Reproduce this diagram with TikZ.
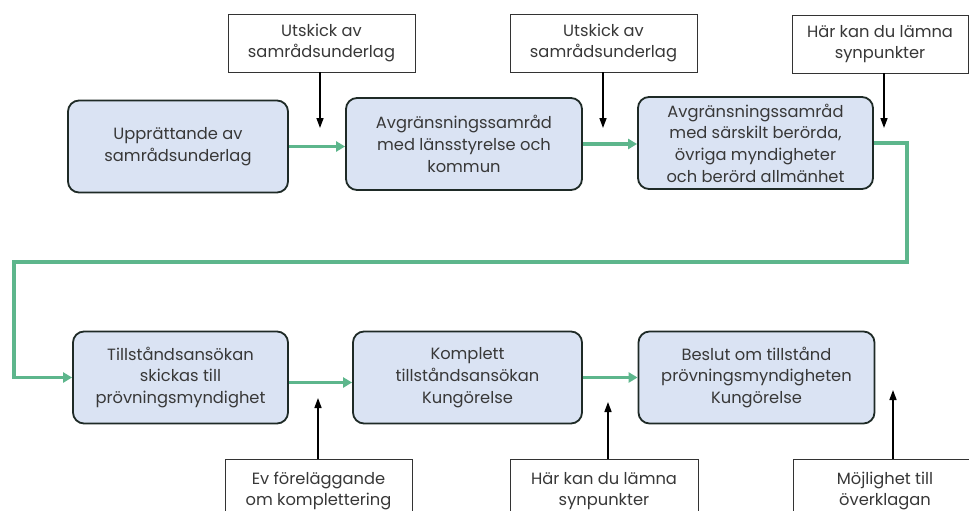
\documentclass[tikz,border=0pt]{standalone}
\usepackage{fontspec}
\setmainfont{Poppins}
\usetikzlibrary{arrows.meta}
\definecolor{boxfill}{HTML}{DAE3F3}
\definecolor{flowgreen}{HTML}{5DB68C}
\definecolor{txt}{HTML}{383838}
\definecolor{edge}{HTML}{1E2A26}
\tikzset{
  stepbox/.style={draw=edge, line width=1.8pt, rounded corners=11pt, fill=boxfill,
    align=center, text=txt, font=\fontsize{16.3}{21.7}\selectfont, minimum height=92pt},
  notebox/.style={draw=black!80, line width=0.8pt, fill=white, align=center, text=txt,
    font=\fontsize{16.3}{21.7}\selectfont, minimum height=58pt},
  flow/.style={draw=flowgreen, line width=3.2pt, -{Triangle[length=9pt,width=10pt]}},
  hint/.style={line width=1.5pt, -{Triangle[length=10pt,width=7pt]}}
}
\begin{document}
\begin{tikzpicture}[x=1pt,y=-1pt]
\clip (0,0) rectangle (969,511);
\fill[white] (0,0) rectangle (969,511);
% upper row
\node[stepbox, minimum width=220pt] (upp) at (178,146.5) {Upprättande av\\samrådsunderlag};
\node[stepbox, minimum width=236pt] (avg1) at (464,144) {Avgränsningssamråd\\med länsstyrelse och\\kommun};
\node[stepbox, minimum width=235pt] (avg2) at (755.5,143) {Avgränsningssamråd\\med särskilt berörda,\\övriga myndigheter\\och berörd allmänhet};
% lower row
\node[stepbox, minimum width=215pt] (ansok) at (180.5,377.5) {Tillståndsansökan\\skickas till\\prövningsmyndighet};
\node[stepbox, minimum width=229pt] (kompl) at (467.5,377.5) {Komplett\\tillståndsansökan\\Kungörelse};
\node[stepbox, minimum width=236pt] (beslut) at (756.5,377.5) {Beslut om tillstånd\\prövningsmyndigheten\\Kungörelse};
% notes
\node[notebox, minimum width=187pt] (utsk1) at (321.5,43) {Utskick av\\samrådsunderlag};
\node[notebox, minimum width=187pt] (utsk2) at (603.5,43) {Utskick av\\samrådsunderlag};
\node[notebox, minimum width=176pt] (synp1) at (880,44) {Här kan du lämna\\synpunkter};
\node[notebox, minimum width=187pt, minimum height=64pt] (forel) at (318.5,491) {Ev föreläggande\\om komplettering};
\node[notebox, minimum width=188pt, minimum height=64pt] (synp2) at (604,491) {Här kan du lämna\\synpunkter};
\node[notebox, minimum width=184pt, minimum height=64pt] (overkl) at (885,491) {Möjlighet till\\överklagan};
% loose ends
\coordinate (t1) at (320,128);
\coordinate (t2) at (603,128);
\coordinate (t3) at (884,128);
\coordinate (b1) at (318,398);
\coordinate (b2) at (608,402);
\coordinate (b3) at (893,390);
\coordinate (turnR) at (907,262);
\coordinate (turnL) at (14,262);
% flow
\draw[flow] (upp.east) -- (upp.east -| avg1.west);
\draw[flow] (avg1.east) -- (avg1.east -| avg2.west);
\draw[flow] (avg2.east) -| (turnR) -- (turnL) |- (ansok.west);
\draw[flow] ([yshift=-5pt]ansok.east) -- ([yshift=-5pt]ansok.east -| kompl.west);
\draw[flow] (kompl.east) -- (kompl.east -| beslut.west);
% hints
\draw[hint] (utsk1.south -| t1) -- (t1);
\draw[hint] (utsk2.south -| t2) -- (t2);
\draw[hint] (synp1.south -| t3) -- (t3);
\draw[hint] (forel.north -| b1) -- (b1);
\draw[hint] (synp2.north -| b2) -- (b2);
\draw[hint] (overkl.north -| b3) -- (b3);
\end{tikzpicture}
\end{document}
